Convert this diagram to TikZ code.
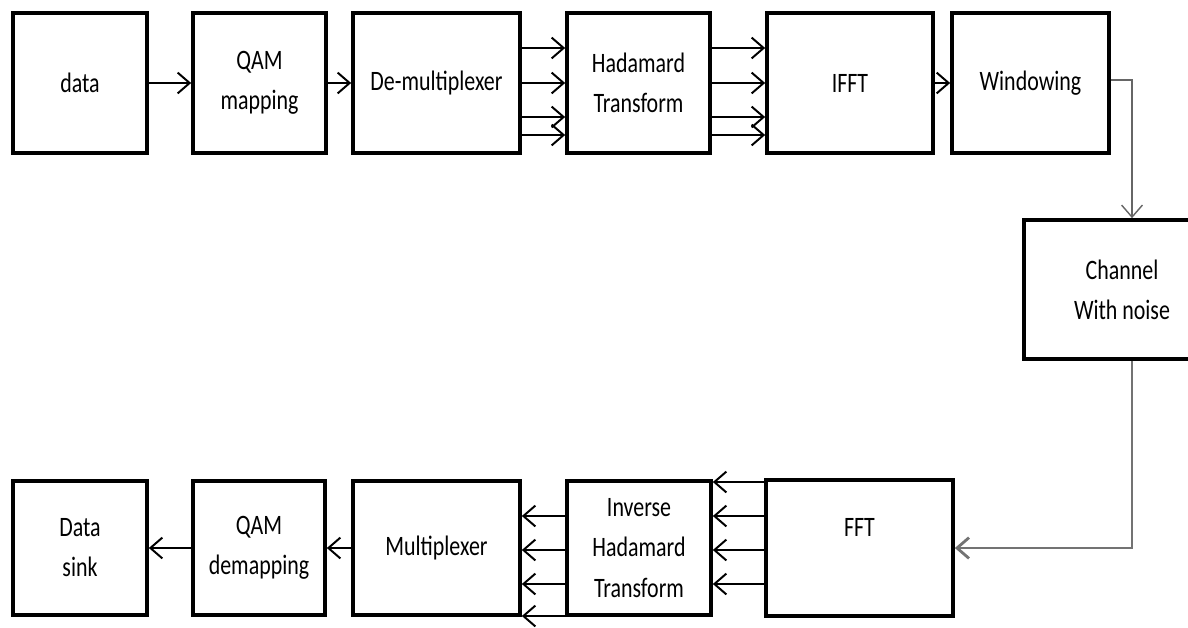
\documentclass[tikz,border=0pt]{standalone}
\usepackage{fontspec}
\newfontfamily\blockfont[FakeStretch=0.78]{Carlito}
\usetikzlibrary{arrows.meta}

\begin{document}
\begin{tikzpicture}[x=0.025cm, y=-0.025cm,
        blk/.style={draw, line width=2.6pt, minimum height=3.5cm, align=center,
            font=\blockfont\fontsize{20}{28.5}\selectfont},
        lowblk/.style={blk, minimum height=3.35cm},
        >={Straight Barb[length=0.3cm, width=0.52cm]}]
        \useasboundingbox (0,0) rectangle (1188,627);

        % transmitter
        \node[blk, minimum width=3.35cm] (data) at (80,83) {data};
        \node[blk, minimum width=3.325cm] (qam) at (259.5,83) {QAM\\mapping};
        \node[blk, minimum width=4.175cm] (demux) at (436.5,83) {De-multiplexer};
        \node[blk, minimum width=3.575cm] (had) at (638.5,83) {Hadamard\\Transform};
        \node[blk, minimum width=4.15cm] (ifft) at (850,83) {IFFT};
        \node[blk, minimum width=3.925cm] (win) at (1030.5,83) {Windowing};

        \node[blk, minimum width=4.9cm, minimum height=3.475cm] (chan) at (1122,289.5) {Channel\\With noise};

        % receiver
        \node[lowblk, minimum width=3.35cm] (sink) at (80,548) {Data\\sink};
        \node[lowblk, minimum width=3.3cm] (qamd) at (259,548) {QAM\\demapping};
        \node[lowblk, minimum width=4.175cm] (mux) at (436.5,548) {Multiplexer};
        \node[lowblk, minimum width=3.6cm] (iht) at (639,548) {Inverse\\Hadamard\\Transform};
        \node[lowblk, minimum width=4.675cm, minimum height=3.4cm] (fft) at (859.5,548) {FFT\\\mbox{}};

        \begin{scope}[line width=1.4pt]
            \draw[->] (data) -- (qam);
            \draw[->] (qam) -- (demux);
            \foreach \y in {48,83,117,135} {
                \draw[->] (demux.east |- 0,\y) -- (had.west |- 0,\y);
                \draw[->] (had.east |- 0,\y) -- (ifft.west |- 0,\y);
            }
            \draw[->] (ifft) -- (win);

            \foreach \y in {482,516,550,584}
                \draw[->] (fft.west |- 0,\y) -- (iht.east |- 0,\y);
            \foreach \y in {516,550,584,616}
                \draw[->] (iht.west |- 0,\y) -- (mux.east |- 0,\y);
            \draw[->] (mux) -- (qamd);
            \draw[->] (qamd) -- (sink);
        \end{scope}

        % channel links
        \coordinate (turn) at (1132,80);
        \draw[->, black!60, line width=1pt] (win.east |- turn) -- (turn) -- (turn |- chan.north);
        \draw[->, black!55, line width=2pt] (chan.south -| turn) |- (fft.east);
    \end{tikzpicture}
\end{document}
